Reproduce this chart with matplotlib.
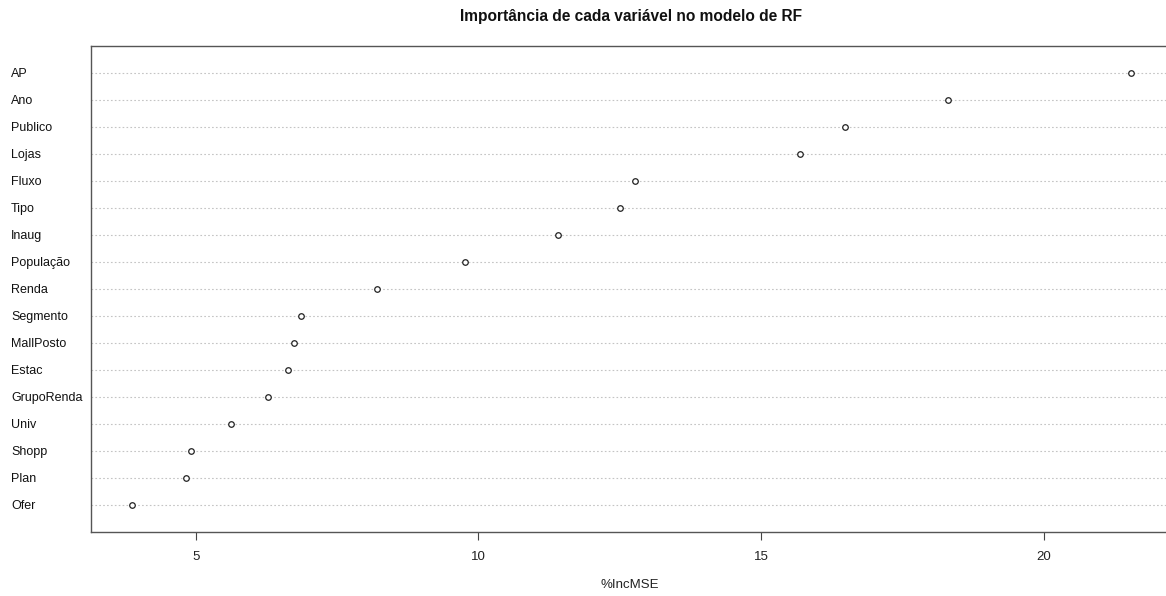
import matplotlib
matplotlib.use("Agg")
import matplotlib.pyplot as plt
from matplotlib.transforms import blended_transform_factory

variables = ["AP", "Ano", "Publico", "Lojas", "Fluxo", "Tipo", "Inaug", "População",
             "Renda", "Segmento", "MallPosto", "Estac", "GrupoRenda", "Univ", "Shopp",
             "Plan", "Ofer"]
inc_mse = [21.54, 18.30, 16.48, 15.69, 12.77, 12.51, 11.41, 9.77,
           8.20, 6.86, 6.73, 6.64, 6.27, 5.62, 4.91, 4.82, 3.87]
xticks = [5, 10, 15, 20]

plt.rcParams['font.family'] = ['Liberation Sans', 'DejaVu Sans']

W, H = 1166, 596
fig = plt.figure(figsize=(W / 100, H / 100), dpi=100)
left, right, top, bottom = 91, 1180, 46, 531.5
ax = fig.add_axes([left / W, 1 - bottom / H, (right - left) / W, (bottom - top) / H])

n = len(variables)
ypos = list(range(n, 0, -1))
for y in ypos:
    ax.axhline(y, color="#c4c4c4", linestyle=(0, (1.5, 2)), linewidth=0.8, zorder=1)
ax.scatter(inc_mse, ypos, s=16, facecolors="white", edgecolors="#222222",
           linewidths=0.9, zorder=3)

x_per_px = 15 / (1044 - 195.7)
x0 = 5 - (195.7 - left) * x_per_px
x1 = 5 + (right - 195.7) * x_per_px
ax.set_xlim(x0, x1)
ax.set_ylim(0, n + 1)
ax.set_yticks([])
ax.set_xticks(xticks)
ax.set_xticklabels([str(t) for t in xticks], fontsize=9.5, color="#222222")
ax.tick_params(axis="x", length=6, width=0.8, color="#444444", pad=8)
for s in ax.spines.values():
    s.set_color("#555555")
    s.set_linewidth(1.0)

trans = blended_transform_factory(fig.transFigure, ax.transData)
for y, lab in zip(ypos, variables):
    ax.text(11 / W, y, lab, transform=trans, ha="left", va="center_baseline",
            fontsize=9, color="#111111")

fig.text(631 / W, 1 - 16 / H, "Importância de cada variável no modelo de RF",
         ha="center", va="center", fontsize=11.2, fontweight="bold", color="#111111")
fig.text(630 / W, 1 - 585 / H, "%IncMSE", ha="center", va="center", fontsize=9.5,
         color="#222222")

fig.savefig("out.png", dpi=100)
